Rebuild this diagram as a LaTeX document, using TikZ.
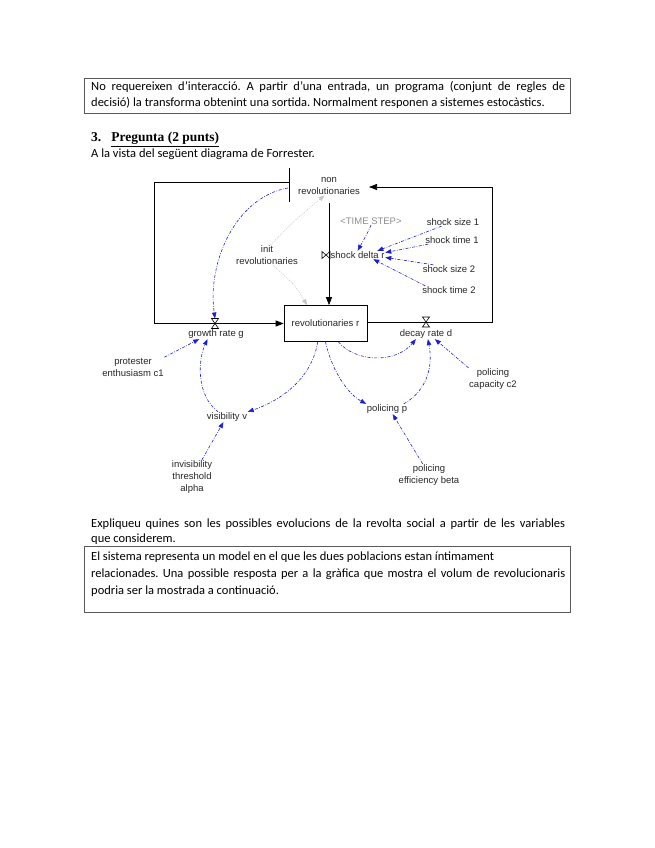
\documentclass[tikz,border=0pt]{standalone}
\usepackage{fontspec}
\setmainfont{Carlito}
\newfontfamily\diagfont{Liberation Sans}
\newfontfamily\headfont{Liberation Serif}
\usetikzlibrary{arrows.meta, positioning}
\definecolor{linkblue}{RGB}{30,30,210}
\definecolor{framegray}{RGB}{90,90,90}
\frenchspacing

\begin{document}
\begin{tikzpicture}[x=1pt, y=-1pt,
    para/.style={font=\fontsize{12.5}{15.5}\selectfont, inner sep=0pt, anchor=north west, align=left},
    frame/.style={draw=framegray, line width=0.6pt},
    var/.style={font=\diagfont\fontsize{9.5}{12}\selectfont, text=black!85, align=center, inner sep=0.5pt},
    stock/.style={var, draw=black, line width=0.7pt, minimum width=83pt, minimum height=36pt},
    pipe/.style={line width=0.7pt},
    flow/.style={pipe, -{Triangle[length=8pt, width=6pt]}},
    link/.style={linkblue, line width=0.6pt, dash pattern=on 3pt off 1.5pt on 0.7pt off 1.5pt, -{Triangle[length=6pt, width=4.5pt]}},
    initlink/.style={gray!45, line width=0.6pt, dash pattern=on 1pt off 1.2pt, -{Triangle[length=6pt, width=4.5pt]}},
    valveh/.pic={\draw[line width=0.6pt] (-3.5,-5) -- (3.5,-5) -- (-3.5,5) -- (3.5,5) -- cycle;
                 \coordinate (-top) at (0,-5);},
    valvev/.pic={\draw[line width=0.6pt] (-4,-3.5) -- (-4,3.5) -- (4,-3.5) -- (4,3.5) -- cycle;}
]
\useasboundingbox (0,0) rectangle (655,848);

% previous answer
\node[frame, anchor=north west, minimum width=486pt, minimum height=35pt] (prevbox) at (84,78) {};
\node[para, text width=474pt, align=justify] (prevtext) at (91,81.5) {No requereixen d'interacció. A partir d'una entrada, un programa (conjunt de regles de\linebreak decisió) la transforma obtenint una sortida. Normalment responen a sistemes estocàstics.};

% question
\node[anchor=base west, inner sep=0pt, font=\headfont\bfseries\fontsize{13.5}{15}\selectfont] (qhead) at (91,141.5) {3.\hspace{0.75em}\underline{Pregunta (2 punts)}};
\node[para] (qintro) at (91,149) {A la vista del següent diagrama de Forrester.};

% === Forrester diagram ===
\node[var] (nonrev) at (329,186) {non\\revolutionaries};
\node[stock] (rev) at (325.5,323.5) {revolutionaries r};
\coordinate (nrbar) at (289,182);
\draw[pipe] (289,168) -- (289,202);

% flows
\coordinate (ltop) at (154,182);
\coordinate (lbot) at (154,323.5);
\draw[flow] (nrbar) -- (ltop) -- (lbot) -- (rev.west);
\coordinate (rbot) at (492,322);
\coordinate (rtop) at (492,187);
\coordinate (nrin) at (369,187);
\draw[flow] (rev.east |- rbot) -- (rbot) -- (rtop) -- (nrin);
\coordinate (nrout) at (329,203);
\draw[flow] (nrout) -- (nrout |- rev.north);

% valves
\pic (gv) at (215,323.5) {valveh};
\pic (dv) at (426,322) {valveh};
\pic (sv) at (326,255) {valvev};
\node[var] (grow) at (216,334) {growth rate g};
\node[var] (decay) at (426,334) {decay rate d};
\node[var, anchor=west] (shock) at (330,255) {shock delta r};

% auxiliaries and constants
\node[var, text=black!45] (tstep) at (371,221) {<TIME STEP>};
\node[var] (ss1) at (453,222) {shock size 1};
\node[var] (st1) at (452,240) {shock time 1};
\node[var] (ss2) at (449,269) {shock size 2};
\node[var] (st2) at (449,290) {shock time 2};
\node[var] (init) at (267,255) {init\\revolutionaries};
\node[var] (prot) at (133,367) {protester\\enthusiasm c1};
\node[var] (vis) at (227,417) {visibility v};
\node[var] (alpha) at (192,477) {invisibility\\threshold\\alpha};
\node[var] (pol) at (387,409) {policing p};
\node[var] (cap) at (493,379) {policing\\capacity c2};
\node[var] (beta) at (429,475) {policing\\efficiency beta};

% links
\coordinate (nrlink) at (288,188);
\draw[link] (nrlink) .. controls (236,197) and (207,262) .. (gv-top);
\draw[link] (tstep.south) .. controls (368,232) .. (shock.north);
\draw[link] (ss1.200) -- (shock.12);
\draw[link] (st1.190) -- (shock.5);
\draw[link] (ss2.165) -- (shock.-5);
\draw[link] (st2.170) -- (shock.-15);
\draw[initlink] (init.70) .. controls (295,220) .. (nonrev.245);
\draw[initlink] (init.-60) .. controls (295,285) .. (rev.135);
\draw[link] (prot.north east) -- (grow.197);
\draw[link] (vis.150) .. controls (196,395) and (198,360) .. (grow.211);
\draw[link] (rev.247) .. controls (312,378) and (282,400) .. (vis.north east);
\draw[link] (alpha.60) -- (vis.235);
\draw[link] (rev.south) .. controls (333,375) and (350,395) .. (pol.north west);
\draw[link] (rev.-55) .. controls (355,362) and (395,364) .. (decay.207);
\draw[link] (pol.17) .. controls (428,390) and (433,365) .. (decay.-70);
\draw[link] (cap.north west) -- (decay.-30);
\draw[link] (beta.120) -- (pol.-42);

% question and answer
\node[para, text width=474pt, align=justify] (ask) at (91,518.5) {Expliqueu quines son les possibles evolucions de la revolta social a partir de les variables\linebreak que considerem.};
\node[frame, anchor=north west, minimum width=486pt, minimum height=66pt] (ansbox) at (84,546) {};
\node[para, text width=474pt, align=justify, font=\fontsize{12.5}{16.8}\selectfont] (anstext) at (91,552) {El sistema representa un model en el que les dues poblacions estan íntimament\\relacionades. Una possible resposta per a la gràfica que mostra el volum de revolucionaris\linebreak podria ser la mostrada a continuació.};
\end{tikzpicture}
\end{document}
